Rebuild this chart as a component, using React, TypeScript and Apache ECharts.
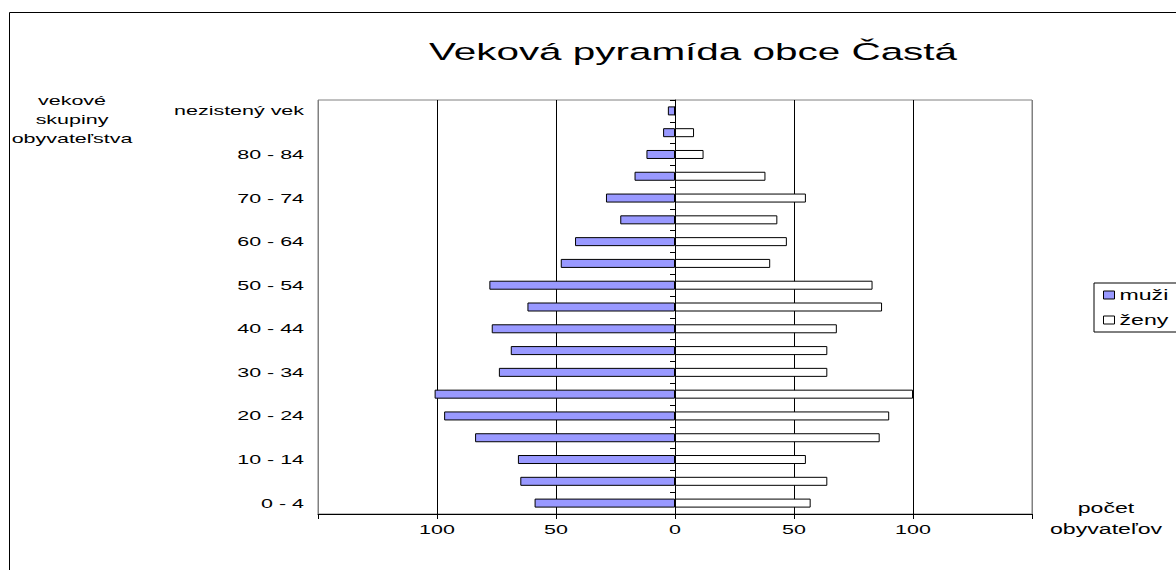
import React, { useEffect, useRef } from "react";
import * as echarts from "echarts";

const ageGroups = [
  "0 - 4", "5 - 9", "10 - 14", "15 - 19", "20 - 24", "25 - 29", "30 - 34",
  "35 - 39", "40 - 44", "45 - 49", "50 - 54", "55 - 59", "60 - 64", "65 - 69",
  "70 - 74", "75 - 79", "80 - 84", "85 +", "nezistený vek",
];
const men = [59, 65, 66, 84, 97, 101, 74, 69, 77, 62, 78, 48, 42, 23, 29, 17, 12, 5, 3];
const women = [57, 64, 55, 86, 90, 100, 64, 64, 68, 87, 83, 40, 47, 43, 55, 38, 12, 8, 0];

const titleText = "Veková pyramída obce Častá";
const yNameLines = ["vekové", "skupiny", "obyvateľstva"];
const xNameLines = ["počet", "obyvateľov"];
const seriesNames = ["muži", "ženy"];

const FONT = '"Liberation Sans", Arial, sans-serif';
const STRETCH = 1.65;

function stretchTexts(el: HTMLElement) {
  const texts = el.querySelectorAll("text");
  texts.forEach((t: any) => {
    if (t.getAttribute("textLength")) return;
    try {
      const len = t.getComputedTextLength();
      if (len > 0) {
        t.setAttribute("textLength", String(len * STRETCH));
        t.setAttribute("lengthAdjust", "spacingAndGlyphs");
      }
    } catch (e) {}
  });
}

export default function App() {
  const ref = useRef<HTMLDivElement>(null);
  useEffect(() => {
    if (!ref.current) return;
    const chart = echarts.init(ref.current, null, { renderer: "svg" });
    const splitColors = ["#808080", "#000", "#000", "#000", "#000", "#000", "#808080"];
    chart.setOption({
      animation: false,
      backgroundColor: "#fff",
      textStyle: { fontFamily: FONT, color: "#000" },
      grid: { left: 318, top: 100, right: 144, bottom: 56, show: true, borderColor: "#808080", borderWidth: 1, backgroundColor: "transparent" },
      legend: {
        orient: "vertical",
        left: 1094,
        top: 283,
        padding: [5, 30, 5, 9],
        itemGap: 11,
        itemWidth: 11,
        itemHeight: 8,
        borderColor: "#000",
        borderWidth: 1,
        icon: "rect",
        textStyle: { fontSize: 14, fontFamily: FONT, color: "#000" },
        data: [
          { name: seriesNames[0], itemStyle: { color: "#9999FF", borderColor: "#000", borderWidth: 1 } },
          { name: seriesNames[1], itemStyle: { color: "#FFFFFF", borderColor: "#000", borderWidth: 1 } },
        ],
      },
      xAxis: {
        type: "value",
        min: -150,
        max: 150,
        interval: 50,
        position: "bottom",
        axisLine: { show: true, onZero: false, lineStyle: { color: "#000", width: 1 } },
        axisTick: { show: true, length: 5, lineStyle: { color: "#000" } },
        axisLabel: {
          margin: 9,
          fontSize: 13,
          fontFamily: FONT,
          color: "#000",
          formatter: (v: number) => (Math.abs(v) === 150 ? "" : String(Math.abs(v))),
        },
        splitLine: { show: true, lineStyle: { color: splitColors, width: 1 } },
      },
      yAxis: [
        {
          type: "category",
          data: ageGroups,
          position: "left",
          axisLine: { show: false, onZero: false },
          axisTick: { show: false },
          axisLabel: { interval: 1, margin: 14, fontSize: 13, fontFamily: FONT, color: "#000" },
          splitLine: { show: false },
        },
        {
          type: "category",
          data: ageGroups,
          position: "left",
          axisLine: { show: true, onZero: true, lineStyle: { color: "#000", width: 1 } },
          axisTick: { show: true, length: 5, interval: 0, lineStyle: { color: "#000" } },
          axisLabel: { show: false },
          splitLine: { show: false },
        },
      ],
      series: [
        {
          name: seriesNames[0],
          type: "bar",
          yAxisIndex: 0,
          data: men.map((v) => -v),
          barWidth: 9,
          barGap: "-100%",
          itemStyle: { color: "#9999FF", borderColor: "#000", borderWidth: 1 },
        },
        {
          name: seriesNames[1],
          type: "bar",
          yAxisIndex: 0,
          data: women,
          barWidth: 9,
          barGap: "-100%",
          itemStyle: { color: "#FFFFFF", borderColor: "#000", borderWidth: 1 },
        },
      ],
      graphic: [
        {
          type: "rect",
          silent: true,
          z: -10,
          shape: { x: 9.5, y: 12.5, width: 1400, height: 800 },
          style: { fill: "none", stroke: "#000", lineWidth: 1 },
        },
        {
          type: "text",
          x: 693,
          y: 51,
          style: { text: titleText, fontSize: 24.5, fontFamily: FONT, fill: "#000", align: "center", verticalAlign: "middle" },
        },
        ...yNameLines.map((t, i) => ({
          type: "text",
          x: 72,
          y: 100 + i * 19,
          style: { text: t, fontSize: 13, fontFamily: FONT, fill: "#000", align: "center", verticalAlign: "middle" },
        })),
        ...xNameLines.map((t, i) => ({
          type: "text",
          x: 1106,
          y: 508 + i * 21,
          style: { text: t, fontSize: 14, fontFamily: FONT, fill: "#000", align: "center", verticalAlign: "middle" },
        })),
      ],
    });
    const el = ref.current;
    const apply = () => stretchTexts(el);
    chart.on("finished", apply);
    const t1 = setTimeout(apply, 50);
    const t2 = setTimeout(apply, 300);
    return () => {
      clearTimeout(t1);
      clearTimeout(t2);
      chart.dispose();
    };
  }, []);
  return (
    <div
      ref={ref}
      style={{ position: "absolute", left: 0, top: 0, width: 1176, height: 570 }}
    />
  );
}
